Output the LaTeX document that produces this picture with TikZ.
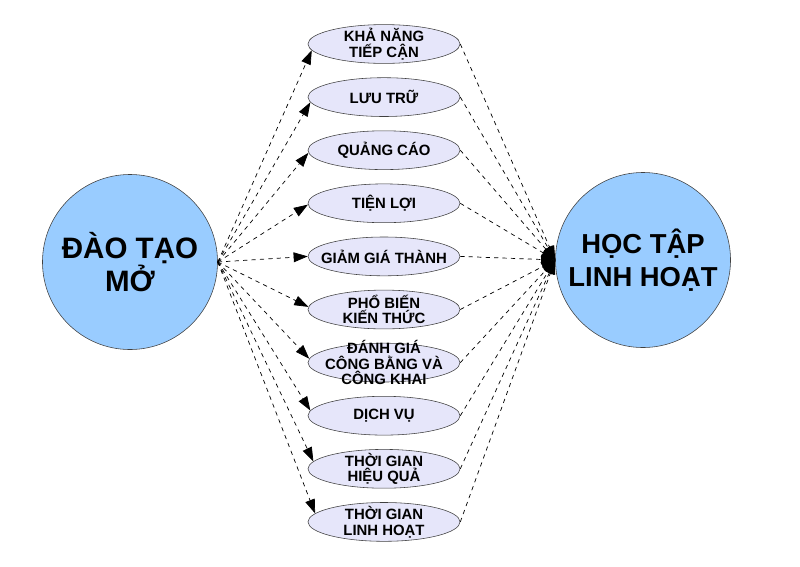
\documentclass[tikz,border=0pt]{standalone}
\usepackage{fontspec}
\setmainfont{Liberation Sans}
\usetikzlibrary{shapes.geometric,arrows.meta}

\definecolor{circblue}{RGB}{153,204,255}
\definecolor{itemfill}{RGB}{230,230,250}

\begin{document}
\begin{tikzpicture}[x=0.025cm,y=-0.025cm,
        bigcirc/.style={circle,draw=black!75,fill=circblue,minimum size=4.375cm,
            inner sep=0pt,align=center,font=\bfseries},
        item/.style={ellipse,draw=black!75,fill=itemfill,minimum width=3.8cm,
            minimum height=0.97cm,inner sep=0pt},
        itemtext/.style={align=center,font=\fontsize{10.6}{11.2}\selectfont\bfseries,inner sep=0pt},
        link/.style={dashed,line width=0.5pt,-{Triangle[length=10pt,width=7pt]}}]
        \useasboundingbox (0,0) rectangle (800,566);
        \node[bigcirc,font=\fontsize{21}{24}\selectfont\bfseries] (open) at (130,262) {ĐÀO TẠO\\MỞ};
        \node[bigcirc,font=\fontsize{19.5}{23}\selectfont\bfseries] (flex) at (643,260) {HỌC TẬP\\LINH HOẠT};
        \foreach \txt [count=\i] in {{KHẢ NĂNG\\TIẾP CẬN},{LƯU TRỮ},{QUẢNG CÁO},{TIỆN LỢI},
                {GIẢM GIÁ THÀNH},{PHỔ BIẾN\\KIẾN THỨC},{ĐÁNH GIÁ\\CÔNG BẰNG VÀ\\CÔNG KHAI},
                {DỊCH VỤ},{THỜI GIAN\\HIỆU QUẢ},{THỜI GIAN\\LINH HOẠT}} {
            \pgfmathsetmacro\y{44+53.1*(\i-1)}
            \pgfmathsetmacro\ang{186.7-1.3*\i}
            \node[item] (e\i) at (384,\y) {};
            \node[itemtext] (t\i) at (e\i) {\txt};
            \draw[link] (open.east) -- (e\i.\ang);
            \draw[link] (e\i.east) -- (flex.west);
        }
    \end{tikzpicture}
\end{document}
